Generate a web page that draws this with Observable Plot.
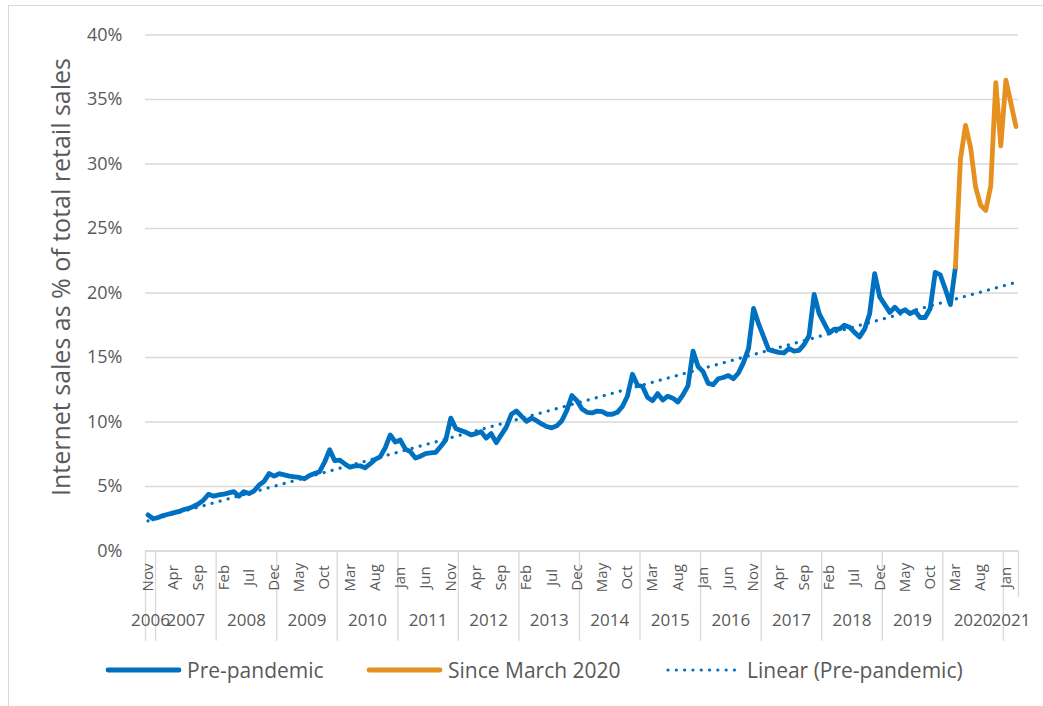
<!DOCTYPE html>
<html>
<head>
<meta charset="utf-8">
<script src="https://cdn.jsdelivr.net/npm/d3@7"></script>
<script src="https://cdn.jsdelivr.net/npm/@observablehq/plot@0.6"></script>
<style>
  html, body { margin: 0; padding: 0; background: #fff; }
  #chart { position: relative; width: 1043px; height: 706px; font-family: "Open Sans", sans-serif; color: #595959; overflow: hidden; }
  #chart svg.plotsvg { position: absolute; left: 0; top: 0; }
  .edge-left { position: absolute; left: 8px; top: 5px; width: 1px; height: 701px; background: #D9D9D9; }
  .edge-top { position: absolute; left: 8px; top: 5px; width: 1035px; height: 1px; background: #D9D9D9; }
  .legend { position: absolute; left: 0; top: 650px; width: 1043px; height: 56px; }
  .legend .item { position: absolute; top: 0; height: 40px; display: flex; align-items: center; font-size: 21px; white-space: nowrap; }
  .legend .item span { margin-left: 5px; }
</style>
</head>
<body>
<div id="chart">
  <div class="edge-left"></div>
  <div class="edge-top"></div>
</div>
<script>
// Internet sales as a share of all retail sales, monthly, from November 2006
const firstYear = 2006;
const firstMonth = 10; // November (0-based)

const monthNames = ["Jan", "Feb", "Mar", "Apr", "May", "Jun", "Jul", "Aug", "Sep", "Oct", "Nov", "Dec"];

// Nov 2006 – Mar 2020 (%)
const prePandemic = [
  2.8, 2.5, 2.6, 2.75, 2.85, 2.95, 3.05, 3.2, 3.3, 3.45, 3.65, 3.95,
  4.4, 4.25, 4.35, 4.4, 4.5, 4.6, 4.25, 4.6, 4.45, 4.65, 5.1, 5.4,
  6.0, 5.8, 6.0, 5.9, 5.8, 5.75, 5.7, 5.6, 5.85, 6.0, 6.15, 6.9,
  7.85, 7.0, 7.05, 6.75, 6.5, 6.6, 6.6, 6.45, 6.75, 7.1, 7.3, 8.0,
  9.0, 8.45, 8.6, 7.9, 7.7, 7.2, 7.35, 7.55, 7.6, 7.65, 8.1, 8.6,
  10.3, 9.5, 9.35, 9.2, 9.0, 9.1, 9.25, 8.75, 9.1, 8.4, 9.0, 9.6,
  10.6, 10.85, 10.45, 10.05, 10.3, 10.1, 9.85, 9.65, 9.55, 9.7, 10.1, 10.9,
  12.05, 11.65, 11.0, 10.75, 10.7, 10.85, 10.8, 10.6, 10.6, 10.75, 11.2, 12.0,
  13.7, 12.85, 12.75, 11.9, 11.65, 12.2, 11.7, 12.0, 11.85, 11.55, 12.1, 12.8,
  15.5, 14.3, 13.9, 13.0, 12.9, 13.35, 13.45, 13.6, 13.35, 13.8, 14.6, 15.7,
  18.8, 17.6, 16.6, 15.6, 15.5, 15.4, 15.35, 15.7, 15.5, 15.55, 16.0, 16.7,
  19.9, 18.4, 17.65, 16.9, 17.2, 17.2, 17.5, 17.35, 16.95, 16.6, 17.2, 18.4,
  21.5, 19.7, 19.1, 18.5, 18.9, 18.5, 18.7, 18.4, 18.6, 18.1, 18.1, 18.8,
  21.6, 21.4, 20.3, 19.1, 22.0
];

// Mar 2020 – Mar 2021 (%)
const sinceMarch2020 = [22.0, 30.4, 33.0, 31.3, 28.2, 26.8, 26.4, 28.3, 36.3, 31.4, 36.5, 34.7, 32.9];

const yTicks = [0, 5, 10, 15, 20, 25, 30, 35, 40];
const yTitle = "Internet sales as % of total retail sales";

const seriesNames = ["Pre-pandemic", "Since March 2020", "Linear (Pre-pandemic)"];
const blue = "#0070C0";
const orange = "#E6901F";
const grey = "#595959";
const gridColor = "#D9D9D9";

// Category axis: one slot per month
const splitIndex = prePandemic.length - 1;           // March 2020 is shared by both series
const nCat = prePandemic.length + sinceMarch2020.length - 1;
const categories = d3.range(nCat).map(i => {
  const m = firstMonth + i;
  return {i, year: firstYear + Math.floor(m / 12), month: m % 12};
});
const monthTicks = categories.filter(d => d.i % 5 === 0);
const yearGroups = d3.groups(categories, d => d.year).map(([year, ds]) => ({
  year: String(year),
  center: d3.mean(ds, d => d.i)
}));
const yearStarts = categories.filter(d => d.month === 0);

// Least-squares trend of the pre-pandemic series, carried across the whole axis
const mx = d3.mean(prePandemic, (_, i) => i);
const my = d3.mean(prePandemic);
const slope = d3.sum(prePandemic, (v, i) => (i - mx) * (v - my)) / d3.sum(prePandemic, (_, i) => (i - mx) ** 2);
const intercept = my - slope * mx;
const trend = [0, nCat - 1].map(i => ({i, v: intercept + slope * i}));

const chart = Plot.plot({
  width: 1043,
  height: 650,
  marginLeft: 145,
  marginRight: 25,
  marginTop: 34.5,
  marginBottom: 99.5,
  style: {fontFamily: "'Open Sans', sans-serif", background: "transparent", overflow: "visible"},
  x: {type: "linear", domain: [-0.5, nCat - 0.5], axis: null},
  y: {domain: [0, 40], axis: null},
  marks: [
    Plot.gridY(yTicks, {stroke: gridColor, strokeOpacity: 1, strokeWidth: 1.3}),
    Plot.ruleY([0], {stroke: gridColor, strokeWidth: 1.3}),
    Plot.axisY(yTicks, {
      tickSize: 0, tickPadding: 23, tickFormat: d => d + "%",
      fontSize: 18, fill: grey, label: null
    }),
    Plot.text([yTitle], {
      frameAnchor: "left", dx: -84, dy: -16, rotate: -90, textAnchor: "middle",
      fontSize: 25, fill: grey
    }),
    // category separators: left edge, year boundaries, right edge
    Plot.ruleX([{i: -0.5}, ...yearStarts], {
      x: d => d.i - (d.month === 0 ? 0.5 : 0), y1: 0, y2: -7,
      stroke: gridColor, strokeWidth: 1.3
    }),
    Plot.ruleX([nCat - 0.5], {y1: 0, y2: -3.6, stroke: gridColor, strokeWidth: 1.3}),
    Plot.text(monthTicks, {
      x: "i", y: 0, dy: 26.5, rotate: -90, textAnchor: "middle",
      text: d => monthNames[d.month], fontSize: 15, fill: grey
    }),
    Plot.text(yearGroups, {
      x: "center", y: 0, dy: 70, text: "year", fontSize: 17, fill: grey
    }),
    Plot.line(prePandemic, {
      x: (d, i) => i, y: d => d, stroke: blue, strokeWidth: 4.8,
      strokeLinejoin: "round", strokeLinecap: "round"
    }),
    Plot.line(sinceMarch2020, {
      x: (d, i) => i + splitIndex, y: d => d, stroke: orange, strokeWidth: 4.8,
      strokeLinejoin: "round", strokeLinecap: "round"
    }),
    Plot.line(trend, {
      x: "i", y: "v", stroke: blue, strokeWidth: 3.2,
      strokeDasharray: "0.1 8.2", strokeLinecap: "round"
    })
  ]
});
chart.classList.add("plotsvg");
const root = document.getElementById("chart");
root.insertBefore(chart, root.firstChild);

// Legend below the plot
const legend = d3.select(root).append("div").attr("class", "legend");
const legendItems = [
  {name: seriesNames[0], left: 105, color: blue, width: 4.8, dash: null},
  {name: seriesNames[1], left: 366, color: orange, width: 4.8, dash: null},
  {name: seriesNames[2], left: 665, color: blue, width: 3.2, dash: "0.1 8.2"}
];
for (const it of legendItems) {
  const item = legend.append("div").attr("class", "item").style("left", it.left + "px");
  const sw = item.append("svg").attr("width", 77).attr("height", 12);
  sw.append("line")
    .attr("x1", 3).attr("x2", 74).attr("y1", 6).attr("y2", 6)
    .attr("stroke", it.color).attr("stroke-width", it.width)
    .attr("stroke-linecap", "round")
    .attr("stroke-dasharray", it.dash);
  item.append("span").text(it.name);
}
</script>
</body>
</html>
